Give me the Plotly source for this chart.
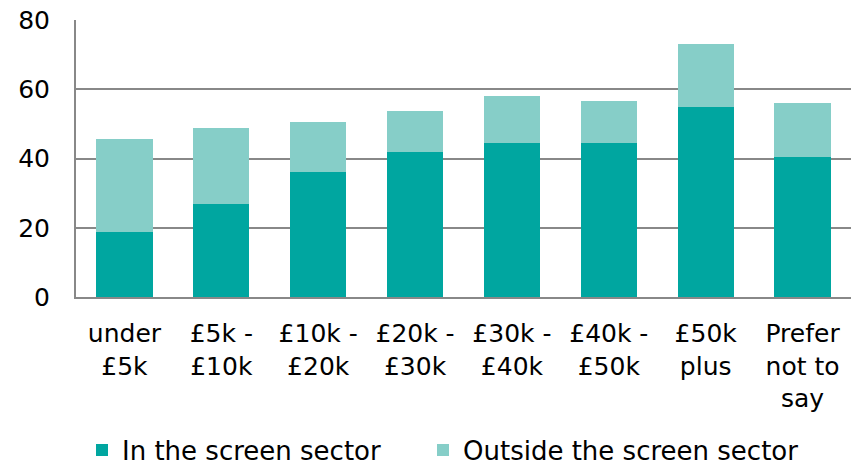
import plotly.graph_objects as go

categories = ["under<br>£5k", "£5k -<br>£10k", "£10k -<br>£20k", "£20k -<br>£30k",
              "£30k -<br>£40k", "£40k -<br>£50k", "£50k<br>plus", "Prefer<br>not to<br>say"]
in_sector = [18.7, 26.9, 36.2, 41.8, 44.5, 44.4, 54.8, 40.5]
total = [45.5, 48.7, 50.5, 53.8, 58.1, 56.7, 73.0, 56.0]
outside_sector = [round(t - i, 1) for t, i in zip(total, in_sector)]
y_ticks = [0, 20, 40, 60, 80]

FONT = "DejaVu Sans, Verdana, sans-serif"

fig = go.Figure()
fig.add_trace(go.Bar(x=categories, y=in_sector, name="In the screen sector",
                     marker=dict(color="#00A6A0", line=dict(width=0)), legend="legend"))
fig.add_trace(go.Bar(x=categories, y=outside_sector, name="Outside the screen sector",
                     marker=dict(color="#86CEC8", line=dict(width=0)), legend="legend2"))

legend_common = dict(orientation="h", xref="container", yref="container",
                     xanchor="left", y=15 / 465, yanchor="middle",
                     font=dict(family=FONT, size=26), itemsizing="constant",
                     itemwidth=30, bgcolor="rgba(0,0,0,0)")

fig.update_layout(
    barmode="stack",
    bargap=0.42,
    width=858, height=465,
    margin=dict(l=76, r=7, t=20, b=168),
    paper_bgcolor="white", plot_bgcolor="white",
    font=dict(family=FONT, size=25, color="#000000"),
    showlegend=True,
    legend=dict(x=82 / 858, **legend_common),
    legend2=dict(x=423 / 858, **legend_common),
)
fig.update_xaxes(showgrid=False, showline=True, linecolor="#888888", linewidth=2,
                 ticks="", tickfont=dict(family=FONT, size=25), ticklabelstandoff=13,
                 automargin=False)
fig.update_yaxes(range=[0, 80], tickvals=y_ticks, showgrid=True, gridcolor="#888888",
                 gridwidth=2, showline=True, linecolor="#888888", linewidth=2,
                 zeroline=False, ticks="", tickfont=dict(family=FONT, size=25),
                 ticklabelstandoff=19, automargin=False)

post = (
    "var h=document.documentElement,b=document.body;"
    "h.style.margin='0';h.style.padding='0';h.style.height='465px';h.style.overflow='hidden';"
    "b.style.margin='0';b.style.padding='0';b.style.height='465px';b.style.overflow='hidden';"
)
fig.write_html("out.html", config={"displayModeBar": False}, post_script=post)
